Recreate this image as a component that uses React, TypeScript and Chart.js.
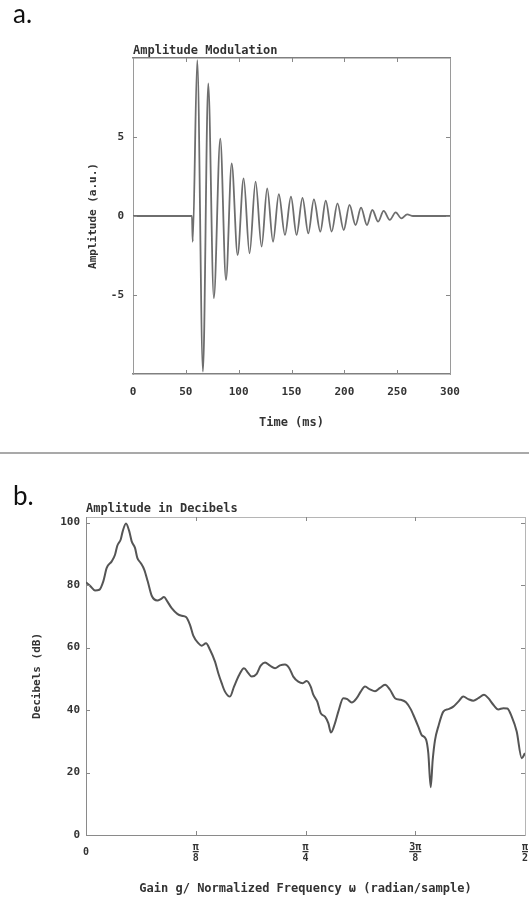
import React, { useEffect, useRef } from 'react';
import { Chart, registerables } from 'chart.js';

Chart.register(...registerables);

const MONO = '"DejaVu Sans Mono", monospace';
const TEXT = '#333333';

// ---------- Panel a: Amplitude Modulation ----------
const ampTimes = [
  0, 55.8, 56.5, 60.8, 66.2, 71.2, 76.5, 82.6, 88, 93.4, 99, 104.7, 110.3, 116, 121.7, 127,
  132.5, 138, 143.8, 149.5, 154.8, 160.4, 165.9, 171.2, 177.3, 182.4, 188, 193.5, 199.4, 204.9,
  210.6, 215.8, 221.4, 226.5, 232, 237.2, 243, 248.6, 254, 259.5, 265, 300,
];
const ampValues = [
  0, 0, -1.63, 9.87, -9.85, 8.4, -5.2, 4.9, -4.05, 3.33, -2.47, 2.38, -2.36, 2.17, -1.94, 1.75,
  -1.63, 1.39, -1.2, 1.22, -1.2, 1.15, -1.1, 1.05, -0.99, 0.97, -0.99, 0.8, -0.89, 0.7,
  -0.57, 0.53, -0.57, 0.38, -0.36, 0.32, -0.25, 0.23, -0.15, 0.1, 0, 0,
];
const ampXTicks = [0, 50, 100, 150, 200, 250, 300];
const ampYTicks = [-5, 0, 5];

// ---------- Panel b: Amplitude in Decibels ----------
const dbFreq = [
  0, 0.0143, 0.0322, 0.0476, 0.0619, 0.0741, 0.092, 0.1038, 0.112, 0.1242, 0.1313, 0.1431,
  0.1549, 0.1635, 0.1753, 0.1836, 0.1957, 0.2086, 0.2208, 0.2351, 0.2551, 0.2673, 0.2791,
  0.2909, 0.3066, 0.3267, 0.3424, 0.3578, 0.3721, 0.3839, 0.4018, 0.414, 0.4294, 0.4437,
  0.4616, 0.4734, 0.4855, 0.4973, 0.5152, 0.5296, 0.5485, 0.5653, 0.5807, 0.5929, 0.6108,
  0.6251, 0.6405, 0.6584, 0.6763, 0.6942, 0.712, 0.7274, 0.7417, 0.7596, 0.7754, 0.7897,
  0.804, 0.8133, 0.8276, 0.8398, 0.8552, 0.867, 0.8766, 0.891, 0.9028, 0.9207, 0.935, 0.9507,
  0.9686, 0.9829, 0.9983, 1.0162, 1.0341, 1.052, 1.0699, 1.0878, 1.1057, 1.126, 1.145, 1.1618,
  1.1711, 1.189, 1.2012, 1.2166, 1.2248, 1.2334, 1.2405, 1.2488, 1.2606, 1.2785, 1.2964,
  1.3143, 1.3322, 1.35, 1.3679, 1.3858, 1.4037, 1.4241, 1.4395, 1.4574, 1.4753, 1.4932,
  1.5075, 1.5232, 1.5411, 1.559, 1.5708,
];
const dbValues = [
  80.9, 79.8, 78.3, 78.5, 81.2, 85.5, 87.6, 89.7, 92.6, 94.6, 97.2, 99.7,
  97.2, 94, 91.9, 88.7, 87.1, 84.9, 81.2, 76.6, 75.1, 75.5, 76.2,
  74.8, 72.6, 70.8, 70.2, 69.8, 67.3, 63.8, 61.4, 60.6, 61.4, 59.3,
  55.5, 51.8, 48.6, 45.9, 44.3, 47.5, 51.3, 53.4, 51.8, 50.7, 51.6,
  54.2, 55.2, 54.2, 53.4, 54.3, 54.6, 53.4, 50.7, 49.1, 48.6, 49.3,
  47.5, 44.9, 42.7, 39, 37.9, 35.8, 32.8, 35.8, 39.5, 43.8, 43.5, 42.4,
  43.8, 45.9, 47.5, 46.6, 46, 47.1, 48.1, 46.5, 43.8, 43.3, 42.5, 40.3,
  38.5, 34.7, 32, 30.6, 26.2, 15.3, 24, 30.4, 34.7, 39.5, 40.3,
  41.1, 42.7, 44.3, 43.5, 43, 43.8, 44.9, 43.8, 41.7, 40.2, 40.6,
  40.5, 37.9, 33.1, 24.6, 26.2,
];
const dbXTicks = [0, Math.PI / 8, Math.PI / 4, (3 * Math.PI) / 8, Math.PI / 2];
const dbXTickLabels: (string | string[])[] = [
  '0',
  ['π', '—', '8'],
  ['π', '—', '4'],
  ['3π', '——', '8'],
  ['π', '—', '2'],
];
const dbYTicks = [0, 20, 40, 60, 80, 100];

const innerTicks = {
  id: 'innerTicks',
  afterDatasetsDraw(chart: any, _args: any, opts: any) {
    const { ctx, chartArea: a, scales } = chart;
    const len = opts.length ?? 4;
    ctx.save();
    ctx.strokeStyle = opts.color ?? '#888';
    ctx.lineWidth = 1;
    ctx.beginPath();
    const xs = scales.x;
    xs.ticks.forEach((t: any) => {
      const p = Math.round(xs.getPixelForValue(t.value)) + 0.5;
      if (p <= a.left + 1 || p >= a.right - 1) return;
      ctx.moveTo(p, a.bottom);
      ctx.lineTo(p, a.bottom - len);
      ctx.moveTo(p, a.top);
      ctx.lineTo(p, a.top + len);
    });
    const ys = scales.y;
    ys.ticks.forEach((t: any) => {
      const p = Math.round(ys.getPixelForValue(t.value)) + 0.5;
      if (p <= a.top + 1 || p >= a.bottom - 1) return;
      ctx.moveTo(a.left, p);
      ctx.lineTo(a.left + len, p);
      ctx.moveTo(a.right, p);
      ctx.lineTo(a.right - len, p);
    });
    ctx.stroke();
    ctx.restore();
  },
};

const setTicks = (values: number[]) => (axis: any) => {
  axis.ticks = values.map((v) => ({ value: v }));
};

const fixH = (h: number) => (s: any) => {
  s.height = h;
  s.paddingLeft = 0;
  s.paddingRight = 0;
  s.paddingTop = 0;
  s.paddingBottom = 0;
};
const fixW = (w: number) => (s: any) => {
  s.width = w;
  s.paddingLeft = 0;
  s.paddingRight = 0;
  s.paddingTop = 0;
  s.paddingBottom = 0;
};

const tickFont = { family: MONO, size: 11, weight: 'bold' as const };
const titleFont = { family: MONO, size: 12, weight: 'bold' as const };

export default function App() {
  const ref1 = useRef<HTMLCanvasElement | null>(null);
  const ref2 = useRef<HTMLCanvasElement | null>(null);

  useEffect(() => {
    const dotted = { display: true, color: '#808080', width: 1.5, dash: [1, 2.6] };
    const solid = { display: true, color: '#9a9a9a', width: 1 };

    const chartA = new Chart(ref1.current as HTMLCanvasElement, {
      type: 'line',
      data: {
        datasets: [
          {
            data: ampTimes.map((t, i) => ({ x: t, y: ampValues[i] })),
            borderColor: '#6e6e6e',
            borderWidth: 1.8,
            pointRadius: 0,
            fill: false,
            cubicInterpolationMode: 'monotone',
          },
        ],
      },
      options: {
        animation: false,
        responsive: false,
        events: [],
        layout: { padding: 0 },
        plugins: {
          legend: { display: false },
          tooltip: { enabled: false },
          innerTicks: { color: '#888', length: 4 },
        } as any,
        scales: {
          x: {
            type: 'linear',
            position: 'bottom',
            min: 0,
            max: 300,
            afterBuildTicks: setTicks(ampXTicks),
            afterFit: fixH(71),
            grid: { display: false, drawTicks: false },
            border: dotted,
            ticks: { font: tickFont, color: TEXT, padding: 11.1, maxRotation: 0, autoSkip: false },
            title: { display: true, text: 'Time (ms)', font: titleFont, color: TEXT, padding: { top: 0, bottom: 14.8 } },
          },
          x2: {
            type: 'linear',
            position: 'top',
            min: 0,
            max: 300,
            afterFit: fixH(58),
            grid: { display: false, drawTicks: false },
            border: dotted,
            ticks: { display: false },
            title: { display: true, text: 'Amplitude Modulation', align: 'start', font: titleFont, color: TEXT, padding: { top: 43.8, bottom: 0 } },
          },
          y: {
            type: 'linear',
            position: 'left',
            min: -10,
            max: 10,
            afterBuildTicks: setTicks(ampYTicks),
            afterFit: fixW(133),
            grid: { display: false, drawTicks: false },
            border: solid,
            ticks: { font: tickFont, color: TEXT, padding: 9 },
            title: { display: true, text: 'Amplitude (a.u.)', font: { family: MONO, size: 11, weight: 'bold' }, color: TEXT, padding: { top: 86.4, bottom: 0 } },
          },
          y2: {
            type: 'linear',
            position: 'right',
            min: -10,
            max: 10,
            afterFit: fixW(79),
            grid: { display: false, drawTicks: false },
            border: solid,
            ticks: { display: false },
          },
        },
      } as any,
      plugins: [innerTicks],
    });

    const chartB = new Chart(ref2.current as HTMLCanvasElement, {
      type: 'line',
      data: {
        datasets: [
          {
            data: dbFreq.map((f, i) => ({ x: f, y: dbValues[i] })),
            borderColor: '#555555',
            borderWidth: 2,
            pointRadius: 0,
            fill: false,
            cubicInterpolationMode: 'monotone',
          },
        ],
      },
      options: {
        animation: false,
        responsive: false,
        events: [],
        layout: { padding: 0 },
        plugins: {
          legend: { display: false },
          tooltip: { enabled: false },
          innerTicks: { color: '#888', length: 4 },
        } as any,
        scales: {
          x: {
            type: 'linear',
            position: 'bottom',
            min: 0,
            max: Math.PI / 2,
            afterBuildTicks: setTicks(dbXTicks),
            afterFit: fixH(62),
            grid: { display: false, drawTicks: false },
            border: { display: true, color: '#8a8a8a', width: 1 },
            ticks: {
              font: { family: MONO, size: 10, weight: 'bold', lineHeight: 0.54 },
              color: TEXT,
              padding: 12.3,
              crossAlign: 'center',
              maxRotation: 0,
              autoSkip: false,
              callback: (_v: any, i: number) => dbXTickLabels[i],
            },
            title: {
              display: true,
              text: 'Gain g/ Normalized Frequency ω (radian/sample)',
              font: titleFont,
              color: TEXT,
              padding: { top: 0, bottom: 0.5 },
            },
          },
          x2: {
            type: 'linear',
            position: 'top',
            min: 0,
            max: Math.PI / 2,
            afterFit: fixH(62),
            grid: { display: false, drawTicks: false },
            border: { display: true, color: '#b5b5b5', width: 1 },
            ticks: { display: false },
            title: { display: true, text: 'Amplitude in Decibels', align: 'start', font: titleFont, color: TEXT, padding: { top: 46.3, bottom: 0 } },
          },
          y: {
            type: 'linear',
            position: 'left',
            min: 0,
            max: 101.8,
            afterBuildTicks: setTicks(dbYTicks),
            afterFit: fixW(86),
            grid: { display: false, drawTicks: false },
            border: { display: true, color: '#8a8a8a', width: 1 },
            ticks: { font: { family: MONO, size: 11, weight: 'bold' }, color: TEXT, padding: 6 },
            title: { display: true, text: 'Decibels (dB)', font: { family: MONO, size: 11, weight: 'bold' }, color: TEXT, padding: { top: 30.4, bottom: 0 } },
          },
          y2: {
            type: 'linear',
            position: 'right',
            min: 0,
            max: 101.8,
            afterFit: fixW(4),
            grid: { display: false, drawTicks: false },
            border: { display: true, color: '#b5b5b5', width: 1 },
            ticks: { display: false },
          },
        },
      } as any,
      plugins: [innerTicks],
    });

    return () => {
      chartA.destroy();
      chartB.destroy();
    };
  }, []);

  const panelLabel: React.CSSProperties = {
    position: 'absolute',
    left: 13,
    font: '26px Lato, "Noto Sans", sans-serif',
    lineHeight: '26px',
    color: '#111',
    zIndex: 2,
  };

  return (
    <div style={{ position: 'absolute', left: 0, top: 0, width: 529, height: 897, background: '#ffffff', overflow: 'hidden' }}>
      <canvas ref={ref1} width={529} height={445} style={{ position: 'absolute', left: 0, top: 0 }} />
      <div style={{ position: 'absolute', left: 0, top: 452, width: 529, height: 2, background: '#a9a9a9' }} />
      <canvas ref={ref2} width={529} height={442} style={{ position: 'absolute', left: 0, top: 455 }} />
      <div style={{ ...panelLabel, top: 0 }}>a.</div>
      <div style={{ ...panelLabel, top: 482 }}>b.</div>
    </div>
  );
}
